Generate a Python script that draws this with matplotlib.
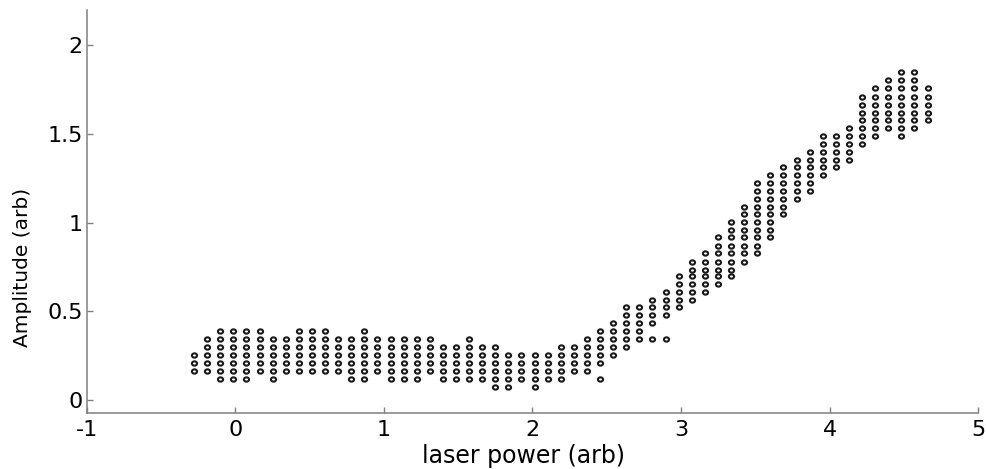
import numpy as np
import matplotlib.pyplot as plt
from matplotlib.path import Path
from matplotlib.transforms import Affine2D

plt.rcParams['font.family'] = ['DejaVu Sans']
plt.rcParams['axes.unicode_minus'] = False

# laser power setting for each column of points
power = [-0.279, -0.191, -0.103, -0.014, 0.074, 0.162, 0.250, 0.338, 0.427, 0.515,
         0.603, 0.691, 0.779, 0.868, 0.956, 1.044, 1.132, 1.220, 1.309, 1.397,
         1.485, 1.573, 1.661, 1.750, 1.838, 1.926, 2.014, 2.102, 2.191, 2.279,
         2.367, 2.455, 2.543, 2.632, 2.720, 2.808, 2.896, 2.984, 3.073, 3.161,
         3.249, 3.337, 3.425, 3.514, 3.602, 3.690, 3.778, 3.866, 3.955, 4.043,
         4.131, 4.219, 4.307, 4.396, 4.484, 4.572, 4.660]

# amplitude levels the measurement is quantised to
levels = [0.073, 0.118, 0.163, 0.208, 0.254, 0.299, 0.344, 0.389, 0.434, 0.479,
          0.524, 0.563, 0.608, 0.656, 0.701, 0.735, 0.780, 0.828, 0.870, 0.917,
          0.958, 1.003, 1.048, 1.090, 1.131, 1.179, 1.221, 1.268, 1.314, 1.356,
          1.399, 1.446, 1.490, 1.534, 1.577, 1.621, 1.662, 1.709, 1.762, 1.803,
          1.850]

# lowest / highest level seen in each column (every level between is filled)
lo = [2, 2, 1, 1, 1, 2, 1, 2, 2, 2, 2, 2, 1, 1, 2, 1, 1, 1, 2, 1,
      1, 1, 1, 0, 0, 1, 0, 1, 1, 2, 2, 3, 4, 5, 6, 8, 9, 10, 11, 12,
      13, 14, 16, 17, 19, 22, 24, 25, 27, 28, 29, 31, 32, 33, 32, 33, 34]
hi = [4, 6, 7, 7, 7, 7, 6, 6, 7, 7, 7, 6, 6, 7, 6, 6, 6, 6, 6, 5,
      5, 6, 5, 5, 4, 4, 4, 4, 5, 5, 6, 7, 8, 10, 10, 11, 12, 14, 16, 17,
      19, 21, 23, 26, 27, 28, 29, 30, 32, 32, 33, 37, 38, 39, 40, 40, 38]
# stray points apart from the main block (column, level)
extra = [(31, 1), (35, 6), (36, 6)]

xs, ys = [], []
for i in range(len(power)):
    for k in range(lo[i], hi[i] + 1):
        xs.append(power[i])
        ys.append(levels[k])
for i, k in extra:
    xs.append(power[i])
    ys.append(levels[k])

# the original picture is a bit stretched sideways, so are its circles
ring = Path.unit_circle().transformed(Affine2D().scale(1.2, 1.0))

fig = plt.figure(figsize=(9.86, 4.69), dpi=100)
ax = fig.add_axes([0.0882, 0.1194, 0.9037, 0.8593])

ax.plot(xs, ys, marker=ring, ls='none', mfc='none', mec='#1a1a1a', ms=3.7, mew=1.5)

ax.set_xlim(-1, 5)
ax.set_ylim(-0.075, 2.2)
ax.set_xticks([-1, 0, 1, 2, 3, 4, 5])
ax.set_yticks([0, 0.5, 1, 1.5, 2])
ax.set_yticklabels(['0', '0.5', '1', '1.5', '2'])

for s in ['top', 'right']:
    ax.spines[s].set_visible(False)
for s in ['left', 'bottom']:
    ax.spines[s].set_color('#808080')
    ax.spines[s].set_linewidth(1.1)
ax.tick_params(direction='in', length=4, width=1, color='#808080',
               labelsize=16, labelcolor='black')
ax.tick_params(axis='x', pad=5)
ax.tick_params(axis='y', pad=3)

ax.set_xlabel('laser power (arb)', fontsize=17)
ax.set_ylabel('Amplitude (arb)', fontsize=14.5)
ax.xaxis.set_label_coords(0.49, -0.078)
ax.yaxis.set_label_coords(-0.062, 0.36)

fig.savefig('out.png', dpi=100)
